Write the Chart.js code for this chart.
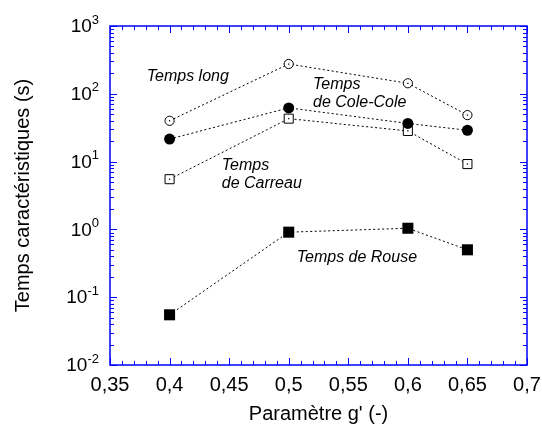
<!DOCTYPE html>
<html>
<head>
<meta charset="utf-8">
<script src="https://cdn.jsdelivr.net/npm/chart.js@4"></script>
<style>
  html, body { margin: 0; padding: 0; background: #fff; }
  canvas { display: block; }
</style>
</head>
<body>
<canvas id="chart" width="542" height="425"></canvas>
<script>
// données
const gValues = [0.4, 0.5, 0.6, 0.65];
const tempsLong = [40, 275, 143, 48.5];
const tempsColeCole = [21.5, 62, 36.5, 29];
const tempsCarreau = [5.5, 43, 28.3, 9.2];
const tempsRouse = [0.055, 0.91, 1.04, 0.5];

const xTickValues = [0.35, 0.4, 0.45, 0.5, 0.55, 0.6, 0.65, 0.7];
const xTickLabels = ["0,35", "0,4", "0,45", "0,5", "0,55", "0,6", "0,65", "0,7"];
const yTickExponents = [-2, -1, 0, 1, 2, 3];

const xTitle = "Paramètre g' (-)";
const yTitle = "Temps caractéristiques (s)";

// étiquettes dans le graphe (coordonnées en données)
const annotations = [
  { lines: ["Temps long"], x: 0.3808, y: [177] },
  { lines: ["Temps", "de Cole-Cole"], x: 0.5204, y: [135, 74] },
  { lines: ["Temps", "de Carreau"], x: 0.4438, y: [8.6, 4.68] },
  { lines: ["Temps de Rouse"], x: 0.5067, y: [0.378] }
];

const AXIS_BLUE = "#0000ff";
const FONT = "'Liberation Sans', Arial, sans-serif";

function toPoints(values) {
  return values.map((v, i) => ({ x: gValues[i], y: v }));
}

function lineSet(label, values, style) {
  return Object.assign({
    label: label,
    data: toPoints(values),
    borderColor: "#000",
    borderWidth: 1,
    borderDash: [2, 2.5],
    pointBorderColor: "#000",
    pointBackgroundColor: "#000",
    pointBorderWidth: 0,
    fill: false,
    tension: 0,
    clip: false
  }, style);
}

// petit point au centre des marqueurs creux
function centerDots(label, values) {
  return {
    label: label,
    data: toPoints(values),
    showLine: false,
    pointStyle: "rect",
    pointRadius: 0.9,
    pointBorderWidth: 0,
    pointBackgroundColor: "#000",
    clip: false,
    order: -1
  };
}

// cadre bleu, graduations intérieures et étiquettes
const framePlugin = {
  id: "frame",
  afterDraw(chart) {
    const ctx = chart.ctx;
    const a = chart.chartArea;
    const xs = chart.scales.x;
    const ys = chart.scales.y;
    ctx.save();
    ctx.strokeStyle = AXIS_BLUE;
    ctx.lineWidth = 1.5;
    ctx.strokeRect(a.left, a.top, a.right - a.left, a.bottom - a.top);

    ctx.lineWidth = 1;
    ctx.beginPath();
    // x : majeures 0,05, mineures 0,01
    for (let k = 0; k <= 35; k++) {
      const v = 0.35 + k * 0.01;
      const px = Math.round(xs.getPixelForValue(v)) + 0.5;
      const len = k % 5 === 0 ? 7 : 4;
      ctx.moveTo(px, a.bottom); ctx.lineTo(px, a.bottom - len);
      ctx.moveTo(px, a.top); ctx.lineTo(px, a.top + len);
    }
    // y : décades et 2..9
    for (let e = -2; e <= 3; e++) {
      for (let m = 1; m <= 9; m++) {
        const v = m * Math.pow(10, e);
        if (v > 1000) break;
        const py = Math.round(ys.getPixelForValue(v)) + 0.5;
        const len = m === 1 ? 7 : 4;
        ctx.moveTo(a.left, py); ctx.lineTo(a.left + len, py);
        ctx.moveTo(a.right, py); ctx.lineTo(a.right - len, py);
      }
    }
    ctx.stroke();

    ctx.fillStyle = "#000";
    // étiquettes x
    ctx.font = "20px " + FONT;
    ctx.textAlign = "center";
    ctx.textBaseline = "middle";
    xTickValues.forEach((v, i) => {
      ctx.fillText(xTickLabels[i], xs.getPixelForValue(v), a.bottom + 20);
    });
    // étiquettes y : 10 puissance n
    yTickExponents.forEach((e) => {
      const py = ys.getPixelForValue(Math.pow(10, e));
      const exp = String(e);
      ctx.font = "13px " + FONT;
      const ew = ctx.measureText(exp).width;
      const right = a.left - 11;
      ctx.textAlign = "left";
      ctx.textBaseline = "middle";
      ctx.fillText(exp, right - ew, py - 6);
      ctx.font = "19px " + FONT;
      ctx.textAlign = "right";
      ctx.fillText("10", right - ew, py + 1);
    });
    // titres
    ctx.font = "20px " + FONT;
    ctx.textAlign = "center";
    ctx.fillText(xTitle, (a.left + a.right) / 2, 414);
    ctx.save();
    ctx.translate(23, (a.top + a.bottom) / 2);
    ctx.rotate(-Math.PI / 2);
    ctx.fillText(yTitle, 0, 0);
    ctx.restore();
    // annotations en italique
    ctx.font = "italic 16px " + FONT;
    ctx.textAlign = "left";
    annotations.forEach((an) => {
      an.lines.forEach((t, i) => {
        ctx.fillText(t, xs.getPixelForValue(an.x), ys.getPixelForValue(an.y[i]));
      });
    });
    ctx.restore();
  }
};

new Chart(document.getElementById("chart"), {
  type: "line",
  data: {
    datasets: [
      lineSet("Temps long", tempsLong, { pointStyle: "circle", pointRadius: 4.6, pointBorderWidth: 1, pointBackgroundColor: "#fff" }),
      lineSet("Temps de Cole-Cole", tempsColeCole, { pointStyle: "circle", pointRadius: 5.5 }),
      lineSet("Temps de Carreau", tempsCarreau, { pointStyle: "rect", pointRadius: 6.4, pointBorderWidth: 1, pointBackgroundColor: "#fff" }),
      lineSet("Temps de Rouse", tempsRouse, { pointStyle: "rect", pointRadius: 7.8 }),
      centerDots("centre long", tempsLong),
      centerDots("centre Carreau", tempsCarreau)
    ]
  },
  options: {
    responsive: false,
    animation: false,
    events: [],
    layout: { padding: { left: 110, right: 15, top: 26, bottom: 60 } },
    plugins: { legend: { display: false }, tooltip: { enabled: false } },
    scales: {
      x: { type: "linear", min: 0.35, max: 0.7, display: false },
      y: { type: "logarithmic", min: 0.01, max: 1000, display: false }
    }
  },
  plugins: [framePlugin]
});
</script>
</body>
</html>
